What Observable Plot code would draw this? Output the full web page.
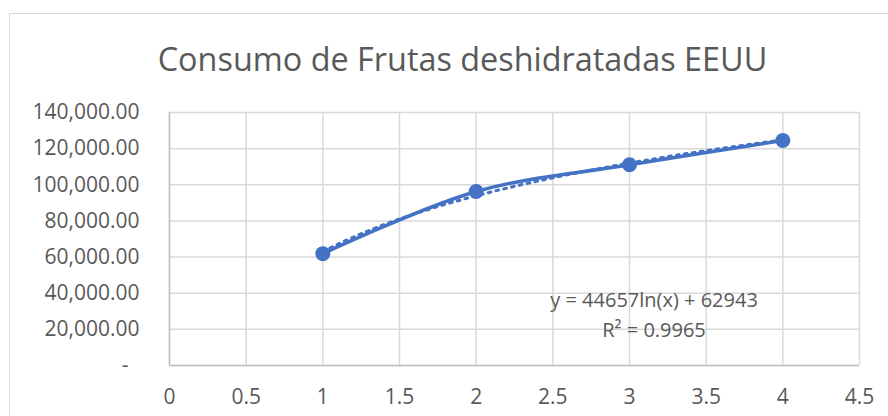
<!DOCTYPE html>
<html>
<head>
<meta charset="utf-8">
<script src="https://cdn.jsdelivr.net/npm/d3@7"></script>
<script src="https://cdn.jsdelivr.net/npm/@observablehq/plot@0.6"></script>
<style>
  html, body { margin: 0; padding: 0; background: #fff; }
  body { width: 888px; height: 416px; overflow: hidden; position: relative; font-family: "Open Sans", sans-serif; }
  #frame { position: absolute; left: 9px; top: 13px; width: 930px; height: 440px; border: 1px solid #d9d9d9; box-sizing: border-box; }
  #title { position: absolute; left: 0; top: 36px; width: 925px; text-align: center; font-size: 32.4px; color: #595959; white-space: nowrap; line-height: 44px; }
  #chart { position: absolute; left: 0; top: 0; }
</style>
</head>
<body>
<div id="frame"></div>
<div id="title">Consumo de Frutas deshidratadas EEUU</div>
<div id="chart"></div>
<script>
// Data
const years = [1, 2, 3, 4];
const consumo = [61900, 96300, 111100, 124500];
const xTicks = [0, 0.5, 1, 1.5, 2, 2.5, 3, 3.5, 4, 4.5];
const yTicks = [0, 20000, 40000, 60000, 80000, 100000, 120000, 140000];
// Logarithmic trendline shown in the chart: y = a ln(x) + b
const trendCoef = [44657, 62943];
const trendLabel = ["y = 44657ln(x) + 62943", "R² = 0.9965"];
const labelPos = [3.16, 36000, 19400];

const points = years.map((x, i) => ({x, y: consumo[i]}));
const trend = d3.range(1, 4.0001, 0.05).map(x => ({x, y: trendCoef[0] * Math.log(x) + trendCoef[1]}));
const labels = trendLabel.map((t, i) => ({x: labelPos[0], y: labelPos[1 + i], t}));

const blue = "#4472C4";
const yfmt = d => d === 0 ? "-\u00a0\u00a0" : d3.format(",.2f")(d);

const chart = Plot.plot({
  width: 888,
  height: 416,
  marginTop: 112,
  marginLeft: 169,
  marginRight: 29,
  marginBottom: 51,
  style: {fontFamily: "Open Sans, sans-serif", fontSize: "21px", color: "#595959", background: "transparent"},
  x: {domain: [0, 4.5], ticks: xTicks},
  y: {domain: [0, 140000], ticks: yTicks},
  marks: [
    Plot.gridX(xTicks, {stroke: "#d9d9d9", strokeOpacity: 1, strokeWidth: 1.5}),
    Plot.gridY(yTicks, {stroke: "#d9d9d9", strokeOpacity: 1, strokeWidth: 1.5}),
    Plot.ruleX([0], {stroke: "#bfbfbf", strokeWidth: 1.5}),
    Plot.ruleY([0], {stroke: "#bfbfbf", strokeWidth: 1.5}),
    Plot.axisX(xTicks, {tickSize: 0, tickPadding: 24, tickFormat: d => String(d), fill: "#595959", fontSize: 21, label: null}),
    Plot.axisY(yTicks, {tickSize: 0, tickPadding: 30, tickFormat: yfmt, fill: "#595959", fontSize: 21, label: null}),
    Plot.line(points, {x: "x", y: "y", stroke: blue, strokeWidth: 3.5, curve: "catmull-rom"}),
    Plot.line(trend, {x: "x", y: "y", stroke: blue, strokeWidth: 3, strokeDasharray: "2.7 5.3", curve: "linear"}),
    Plot.dot(points, {x: "x", y: "y", r: 7.5, fill: blue, stroke: blue, strokeWidth: 0}),
    Plot.text(labels, {x: "x", y: "y", text: "t", fill: "#595959", fontSize: 20, textAnchor: "middle"})
  ]
});
document.getElementById("chart").appendChild(chart);
</script>
</body>
</html>
